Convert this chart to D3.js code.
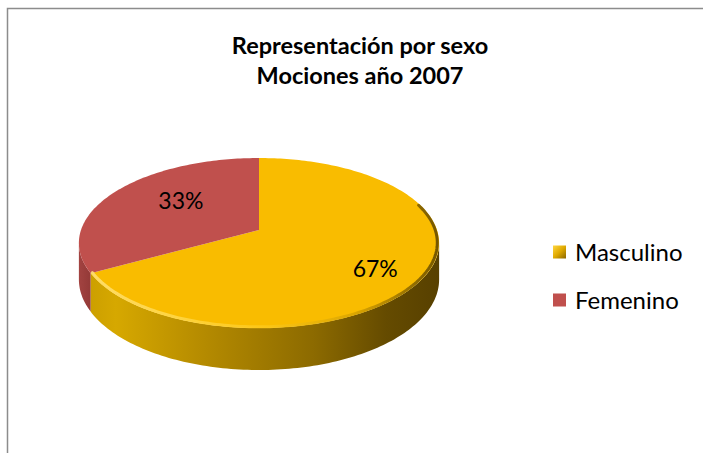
<!DOCTYPE html>
<html>
<head>
<meta charset="utf-8">
<script src="https://cdn.jsdelivr.net/npm/d3@7"></script>
<style>
  body { margin: 0; background: #fff; }
  text { font-family: Lato, "Liberation Sans", sans-serif; fill: #000; }
</style>
</head>
<body>
<div id="chart"></div>
<script>
// chart data
const categories = ["Masculino", "Femenino"];
const values = [67, 33];
const labels = ["67%", "33%"];
const titleLines = ["Representación por sexo", "Mociones año 2007"];

const W = 703, H = 453;

const svg = d3.select("#chart")
  .append("svg")
    .attr("width", W)
    .attr("height", H);

const defs = svg.append("defs");

// outer frame of the chart area
svg.append("rect")
  .attr("x", 7.5).attr("y", 8.5)
  .attr("width", W).attr("height", H)
  .attr("fill", "#fff")
  .attr("stroke", "#8c8c8c")
  .attr("stroke-width", 1.5);

// title
svg.append("g")
  .selectAll("text")
  .data(titleLines)
  .enter()
  .append("text")
    .attr("x", 360)
    .attr("y", (d, i) => 54 + i * 30)
    .attr("text-anchor", "middle")
    .style("font-weight", "bold")
    .style("font-size", "23.5px")
    .text(d => d);

// colours
const color = d3.scaleOrdinal()
  .domain(categories)
  .range(["#f9bc00", "#c0504d"]);

// gradients for the 3d look
const wallGrad = defs.append("linearGradient")
  .attr("id", "wallGold")
  .attr("gradientUnits", "userSpaceOnUse")
  .attr("x1", 80).attr("x2", 440).attr("y1", 0).attr("y2", 0);
[[0, "#c89c00"], [0.1, "#d6a800"], [0.35, "#b48a00"], [0.65, "#8c6a00"], [0.85, "#654b00"], [1, "#574000"]]
  .forEach(s => wallGrad.append("stop").attr("offset", s[0]).attr("stop-color", s[1]));

const wallRed = defs.append("linearGradient")
  .attr("id", "wallRed")
  .attr("gradientUnits", "userSpaceOnUse")
  .attr("x1", 76).attr("x2", 95).attr("y1", 0).attr("y2", 0);
[[0, "#a64543"], [1, "#8e3634"]]
  .forEach(s => wallRed.append("stop").attr("offset", s[0]).attr("stop-color", s[1]));

const rimGrad = defs.append("linearGradient")
  .attr("id", "rimGold")
  .attr("gradientUnits", "userSpaceOnUse")
  .attr("x1", 90).attr("x2", 440).attr("y1", 0).attr("y2", 0);
[[0, "#ffe27a"], [0.25, "#ffd84a"], [0.5, "#fcc81a"], [0.75, "#d9a400"], [0.9, "#8e6a00"], [1, "#5a4200"]]
  .forEach(s => rimGrad.append("stop").attr("offset", s[0]).attr("stop-color", s[1]));

const iconGrad = defs.append("linearGradient")
  .attr("id", "iconGold")
  .attr("x1", 0).attr("y1", 0).attr("x2", 1).attr("y2", 1);
[[0, "#ffd640"], [0.5, "#e0aa00"], [1, "#8a6600"]]
  .forEach(s => iconGrad.append("stop").attr("offset", s[0]).attr("stop-color", s[1]));

// perspective pie geometry
const cx = 259, cy = 230, rx = 178, ry = 83, k = 0.153, depth = 35.6;

function proj(a, f, drop) {
  const u = f * Math.sin(a), v = f * Math.cos(a);
  const s = 1 / (1 + k * v);
  return [cx + rx * u * s, cy - ry * v * s + (drop || 0) * s];
}

function arcPoints(a0, a1, f, drop) {
  const n = Math.max(2, Math.ceil(Math.abs(a1 - a0) / 0.02));
  return d3.range(n + 1).map(i => proj(a0 + (a1 - a0) * i / n, f, drop));
}

const pie = d3.pie().sort(null).value(d => d.value)
  .startAngle(0).endAngle(2 * Math.PI);
const arcs = pie(categories.map((c, i) => ({ name: c, value: values[i], label: labels[i] })));

const line = d3.line();

// visible front part of the outer wall
const aL = Math.acos(-k), aR = 2 * Math.PI - aL;

const pieG = svg.append("g");

// outer walls
pieG.selectAll(".wall")
  .data(arcs.filter(d => Math.min(d.endAngle, aR) > Math.max(d.startAngle, aL)))
  .enter()
  .append("path")
    .attr("class", "wall")
    .attr("d", d => {
      const lo = Math.max(d.startAngle, aL), hi = Math.min(d.endAngle, aR);
      const pts = arcPoints(lo, hi, 1, 0).concat(arcPoints(hi, lo, 1, depth));
      return line(pts) + "Z";
    })
    .attr("fill", d => d.index === 0 ? "url(#wallGold)" : "url(#wallRed)");

// tops
pieG.selectAll(".top")
  .data(arcs)
  .enter()
  .append("path")
    .attr("class", "top")
    .attr("d", d => line([[cx, cy]].concat(arcPoints(d.startAngle, d.endAngle, 1, 0))) + "Z")
    .attr("fill", d => color(d.data.name));

// bevel rim on the gold slice
pieG.append("path")
  .datum(arcs[0])
  .attr("d", d => line(arcPoints(1.25, d.endAngle, 0.99, 0)))
  .attr("fill", "none")
  .attr("stroke", "url(#rimGold)")
  .attr("stroke-width", 3)
  .attr("stroke-opacity", 0.85)
  .attr("stroke-linecap", "round");

// data labels
pieG.selectAll(".lbl")
  .data(arcs)
  .enter()
  .append("text")
    .attr("class", "lbl")
    .attr("transform", d => {
      const p = proj((d.startAngle + d.endAngle) / 2 + 0.11, 0.68, 0);
      return `translate(${p[0] + 13},${p[1] + 3})`;
    })
    .attr("text-anchor", "middle")
    .attr("dy", "0.35em")
    .style("font-size", "23px")
    .text(d => d.data.label);

// legend
const legend = svg.append("g")
  .selectAll("g")
  .data(categories)
  .enter()
  .append("g")
    .attr("transform", (d, i) => `translate(553, ${252 + i * 48})`);

legend.append("rect")
  .attr("x", 0).attr("y", -6.5)
  .attr("width", 13).attr("height", 13)
  .attr("fill", (d, i) => i === 0 ? "url(#iconGold)" : color(d));

legend.append("text")
  .attr("x", 22)
  .attr("y", 0)
  .attr("dy", "0.36em")
  .style("font-size", "24px")
  .text(d => d);
</script>
</body>
</html>
